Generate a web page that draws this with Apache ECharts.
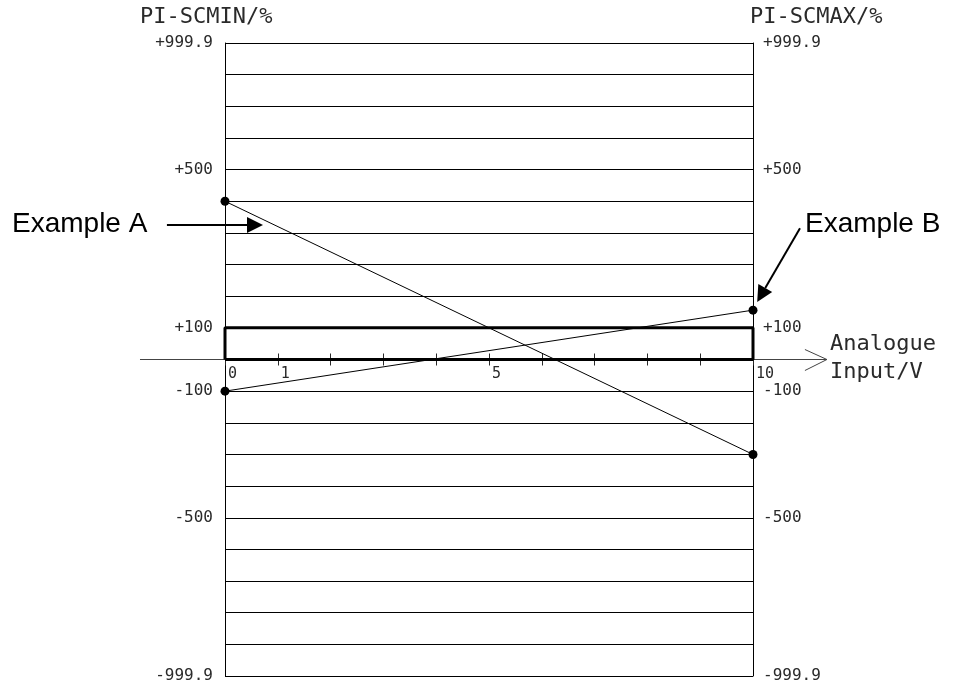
<!DOCTYPE html>
<html>
<head>
<meta charset="utf-8">
<title>PI-SCMIN / PI-SCMAX</title>
<script src="https://cdn.jsdelivr.net/npm/echarts@6/dist/echarts.min.js"></script>
<style>
html, body { margin: 0; padding: 0; background: #fff; }
#chart { width: 957px; height: 691px; }
</style>
</head>
<body>
<div id="chart"></div>
<script>
// the drawing's vertical scale is not linear, so y is kept in grid divisions
// (one division per horizontal line, 0 = the input axis)
const xRange = [0, 10];
const yRange = [-10, 10];
const xLabels = { 0: '0', 1: '1', 5: '5', 10: '10' };
const yLabels = { 10: '+999.9', 6: '+500', 1: '+100', '-1': '-100', '-5': '-500', '-10': '-999.9' };

const exampleA = [[0, 5], [10, -3]];
const exampleB = [[0, -1], [10, 1.56]];
const inputBand = [[0, 0], [0, 1], [10, 1], [10, 0], [0, 0]];

// annotation arrows, in the same units (start, tip)
const arrowA = [[-1.1, 4.25], [0.72, 4.25]];
const arrowB = [[10.89, 4.15], [10.08, 1.82]];

const cadFont = 'DejaVu Sans Mono';
const ink = '#2a2a2a';

// plot box in pixels; the input axis sits half way down
const box = { left: 225, right: 204, top: 43, bottom: 15 };
const zeroFromBottom = 691 - (box.top + (691 - box.top - box.bottom) / 2);

const chart = echarts.init(document.getElementById('chart'));

const lineSeries = (name, data, width, dots) => ({
    name: name,
    type: 'line',
    data: data,
    clip: false,
    silent: true,
    symbol: dots ? 'circle' : 'none',
    symbolSize: 9,
    itemStyle: { color: '#000' },
    lineStyle: { color: '#000', width: width },
    z: dots ? 4 : 5
});

const cadText = size => ({ fontFamily: cadFont, fontWeight: 'normal', fontSize: size, color: ink });

chart.setOption({
    animation: false,
    backgroundColor: '#fff',
    title: [
        { text: 'PI-SCMIN/%', left: 140, top: 6, padding: 0, textStyle: cadText(22) },
        { text: 'PI-SCMAX/%', left: 750, top: 6, padding: 0, textStyle: cadText(22) },
        {
            text: 'Analogue\nInput/V',
            left: 830,
            top: 330,
            padding: 0,
            textStyle: Object.assign(cadText(22), { lineHeight: 28 })
        },
        {
            text: 'Example A',
            left: 12,
            top: 210,
            padding: 0,
            textStyle: { fontFamily: 'Liberation Sans', fontWeight: 'normal', fontSize: 28, color: '#000' }
        },
        {
            text: 'Example B',
            left: 805,
            top: 210,
            padding: 0,
            textStyle: { fontFamily: 'Liberation Sans', fontWeight: 'normal', fontSize: 28, color: '#000' }
        }
    ],
    grid: [
        // main plot
        { left: box.left, right: box.right, top: box.top, bottom: box.bottom, outerBoundsMode: 'none' },
        // upper half: its bottom edge carries the input axis, labels and lower tick halves
        { left: box.left, right: box.right, top: box.top, bottom: zeroFromBottom, outerBoundsMode: 'none' },
        // lower half: its top edge carries the upper tick halves
        { left: box.left, right: box.right, top: 691 - zeroFromBottom, bottom: box.bottom, outerBoundsMode: 'none' }
    ],
    xAxis: [
        {
            gridIndex: 0,
            type: 'value',
            min: xRange[0],
            max: xRange[1],
            interval: 1,
            show: false
        },
        {
            gridIndex: 1,
            type: 'value',
            position: 'bottom',
            min: xRange[0],
            max: xRange[1],
            interval: 1,
            axisLine: { show: true, onZero: false, lineStyle: { color: '#444', width: 1 } },
            axisTick: { show: true, inside: false, length: 6, lineStyle: { color: ink } },
            axisLabel: {
                formatter: v => xLabels[v] || '',
                align: 'left',
                padding: [0, 0, 0, 3],
                margin: 7,
                fontFamily: cadFont,
                fontSize: 15,
                color: ink,
                showMinLabel: true,
                showMaxLabel: true
            },
            splitLine: { show: false }
        },
        {
            gridIndex: 2,
            type: 'value',
            position: 'top',
            min: xRange[0],
            max: xRange[1],
            interval: 1,
            axisLine: { show: false, onZero: false },
            axisTick: { show: true, inside: false, length: 6, lineStyle: { color: ink } },
            axisLabel: { show: false },
            splitLine: { show: false }
        }
    ],
    yAxis: [
        {
            gridIndex: 0,
            type: 'value',
            position: 'left',
            min: yRange[0],
            max: yRange[1],
            interval: 1,
            axisLine: { show: true, onZero: false, lineStyle: { color: '#000', width: 1 } },
            axisTick: { show: false },
            axisLabel: {
                formatter: v => yLabels[v] || '',
                margin: 12,
                fontFamily: cadFont,
                fontSize: 16,
                color: ink
            },
            splitLine: { show: true, lineStyle: { color: '#000', width: 1 } }
        },
        {
            gridIndex: 0,
            type: 'value',
            position: 'right',
            min: yRange[0],
            max: yRange[1],
            interval: 1,
            axisLine: { show: true, onZero: false, lineStyle: { color: '#000', width: 1 } },
            axisTick: { show: false },
            axisLabel: {
                formatter: v => yLabels[v] || '',
                margin: 10,
                fontFamily: cadFont,
                fontSize: 16,
                color: ink
            },
            splitLine: { show: false }
        },
        { gridIndex: 1, type: 'value', min: 0, max: 1, show: false },
        { gridIndex: 2, type: 'value', min: 0, max: 1, show: false }
    ],
    series: [
        lineSeries('Input band', inputBand, 3, false),
        lineSeries('Example A', exampleA, 1, true),
        lineSeries('Example B', exampleB, 1, true)
    ]
});

// decorations: extended input axis with open arrowhead, and the two pointer arrows
const toPx = d => chart.convertToPixel({ xAxisIndex: 0, yAxisIndex: 0 }, d);

function pointer(from, to) {
    const a = toPx(from);
    const b = toPx(to);
    const dx = b[0] - a[0];
    const dy = b[1] - a[1];
    const len = Math.sqrt(dx * dx + dy * dy);
    const ux = dx / len;
    const uy = dy / len;
    const head = 16;
    const half = 8;
    const bx = b[0] - ux * head;
    const by = b[1] - uy * head;
    return [
        {
            type: 'line',
            shape: { x1: a[0], y1: a[1], x2: bx, y2: by },
            style: { stroke: '#000', lineWidth: 2 },
            silent: true
        },
        {
            type: 'polygon',
            shape: { points: [[b[0], b[1]], [bx - uy * half, by + ux * half], [bx + uy * half, by - ux * half]] },
            style: { fill: '#000' },
            silent: true
        }
    ];
}

const origin = toPx([0, 0]);
const axisStart = toPx([-1.61, 0]);
const axisEnd = toPx([11.4, 0]);
const axisGray = '#444';

chart.setOption({
    graphic: [
        {
            type: 'line',
            shape: { x1: axisStart[0], y1: origin[1], x2: origin[0], y2: origin[1] },
            style: { stroke: axisGray, lineWidth: 1 },
            silent: true
        },
        {
            type: 'line',
            shape: { x1: toPx([10, 0])[0], y1: origin[1], x2: axisEnd[0], y2: origin[1] },
            style: { stroke: axisGray, lineWidth: 1 },
            silent: true
        },
        {
            type: 'polyline',
            shape: { points: [[axisEnd[0] - 22, origin[1] - 10], [axisEnd[0], origin[1]], [axisEnd[0] - 22, origin[1] + 11]] },
            style: { stroke: axisGray, lineWidth: 1, fill: null },
            silent: true
        }
    ].concat(pointer(arrowA[0], arrowA[1]), pointer(arrowB[0], arrowB[1]))
});
</script>
</body>
</html>
